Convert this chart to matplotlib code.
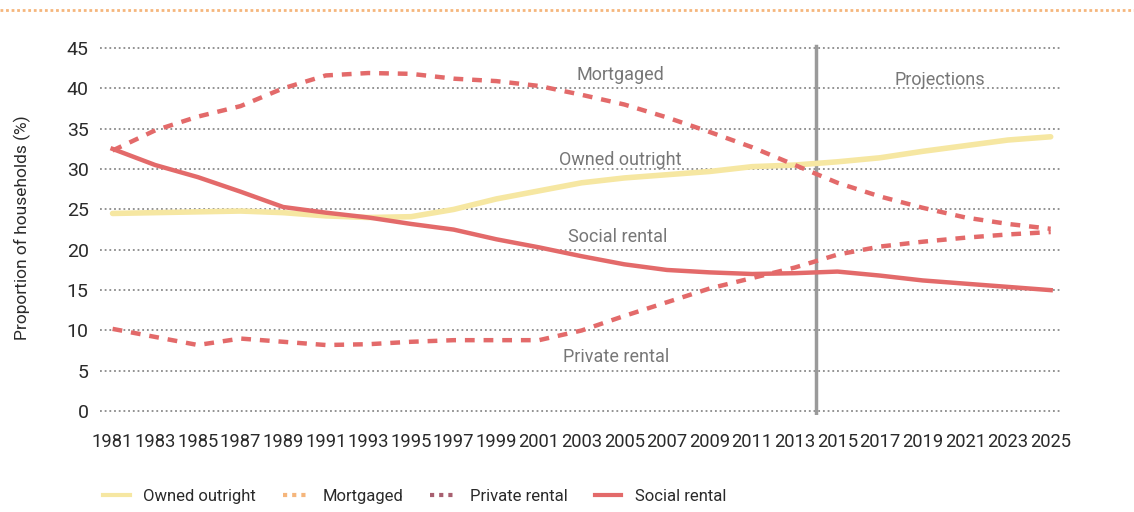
import matplotlib
matplotlib.use("Agg")
import matplotlib.pyplot as plt
from matplotlib.lines import Line2D

years = list(range(1981, 2026, 2))
owned_outright = [24.5, 24.6, 24.7, 24.8, 24.6, 24.2, 24.0, 24.1, 25.0, 26.3, 27.3, 28.3,
                  28.9, 29.3, 29.7, 30.3, 30.5, 30.9, 31.4, 32.2, 32.9, 33.6, 34.0]
mortgaged = [32.3, 34.8, 36.5, 37.8, 40.0, 41.6, 41.9, 41.8, 41.2, 40.9, 40.3, 39.2,
             38.0, 36.4, 34.6, 32.7, 30.5, 28.3, 26.6, 25.2, 24.0, 23.2, 22.6]
private_rental = [10.2, 9.2, 8.2, 9.0, 8.6, 8.2, 8.3, 8.6, 8.8, 8.8, 8.8, 10.0,
                  11.8, 13.5, 15.2, 16.5, 17.8, 19.4, 20.4, 21.0, 21.5, 21.9, 22.2]
social_rental = [32.5, 30.5, 29.0, 27.2, 25.3, 24.6, 24.0, 23.2, 22.5, 21.3, 20.3, 19.2,
                 18.2, 17.5, 17.2, 17.0, 17.1, 17.3, 16.8, 16.2, 15.8, 15.4, 15.0]
projection_start = 2014
y_ticks = list(range(0, 50, 5))
labels = ["Owned outright", "Mortgaged", "Private rental", "Social rental"]

plt.rcParams['font.family'] = ['Roboto', 'DejaVu Sans']

fig = plt.figure(figsize=(11.34, 5.12), dpi=100)
ax = fig.add_axes([0.088, 0.189, 0.847, 0.733])

c_yellow = "#f6e7a2"
c_red = "#e36a6a"
c_orange = "#f5b67c"
c_grid = "#8a8a8a"

for yv in y_ticks:
    ax.axhline(yv, color=c_grid, lw=1.3, ls=(0, (1, 1.6)), zorder=1)

ax.axvline(projection_start, color="#9a9a9a", lw=2.5, zorder=2, ymin=0.0, ymax=0.985)

ax.plot(years, owned_outright, color=c_yellow, lw=4, solid_capstyle='round', zorder=3)
ax.plot(years, social_rental, color=c_red, lw=3.2, zorder=4)
ax.plot(years, mortgaged, color=c_red, lw=3.2, ls=(0, (2.2, 2.0)), zorder=4)
ax.plot(years, private_rental, color=c_red, lw=3.2, ls=(0, (2.2, 2.0)), zorder=4)

tc = "#777777"
ax.text(2004.8, 41.6, "Mortgaged", color=tc, fontsize=13, ha="center", va="center")
ax.text(2004.8, 31.1, "Owned outright", color=tc, fontsize=13, ha="center", va="center")
ax.text(2004.7, 21.6, "Social rental", color=tc, fontsize=13, ha="center", va="center")
ax.text(2004.6, 6.7, "Private rental", color=tc, fontsize=13, ha="center", va="center")
ax.text(2019.8, 41.0, "Projections", color=tc, fontsize=13, ha="center", va="center")

ax.set_xlim(1980.4, 2025.45)
ax.set_ylim(-0.5, 46)
ax.set_xticks(years)
ax.set_xticklabels([str(y) for y in years], fontsize=13.2, color="#2a2a2a")
ax.set_yticks(y_ticks)
ax.set_yticklabels([str(v) for v in y_ticks], fontsize=14, color="#2a2a2a")
ax.tick_params(axis="x", length=0, pad=13)
ax.tick_params(axis="y", length=0, pad=8)
for s in ax.spines.values():
    s.set_visible(False)
ax.set_ylabel("Proportion of households (%)", fontsize=12.5, color="#2a2a2a", labelpad=26)

handles = [Line2D([], [], color=c_yellow, lw=3),
           Line2D([], [], color=c_orange, lw=3, ls=(0, (1, 1.2))),
           Line2D([], [], color="#a86070", lw=3, ls=(0, (1, 1.2))),
           Line2D([], [], color=c_red, lw=3)]
fig.legend(handles, labels, loc="center left", bbox_to_anchor=(0.078, 0.03), ncol=4,
           frameon=False, fontsize=12, handlelength=1.6, columnspacing=1.6,
           labelcolor="#2a2a2a")

fig.add_artist(Line2D([0, 1], [0.98, 0.98], transform=fig.transFigure, color=c_orange,
                      lw=2, ls=(0, (1, 1))))

fig.savefig("out.png", dpi=100, facecolor="white")
